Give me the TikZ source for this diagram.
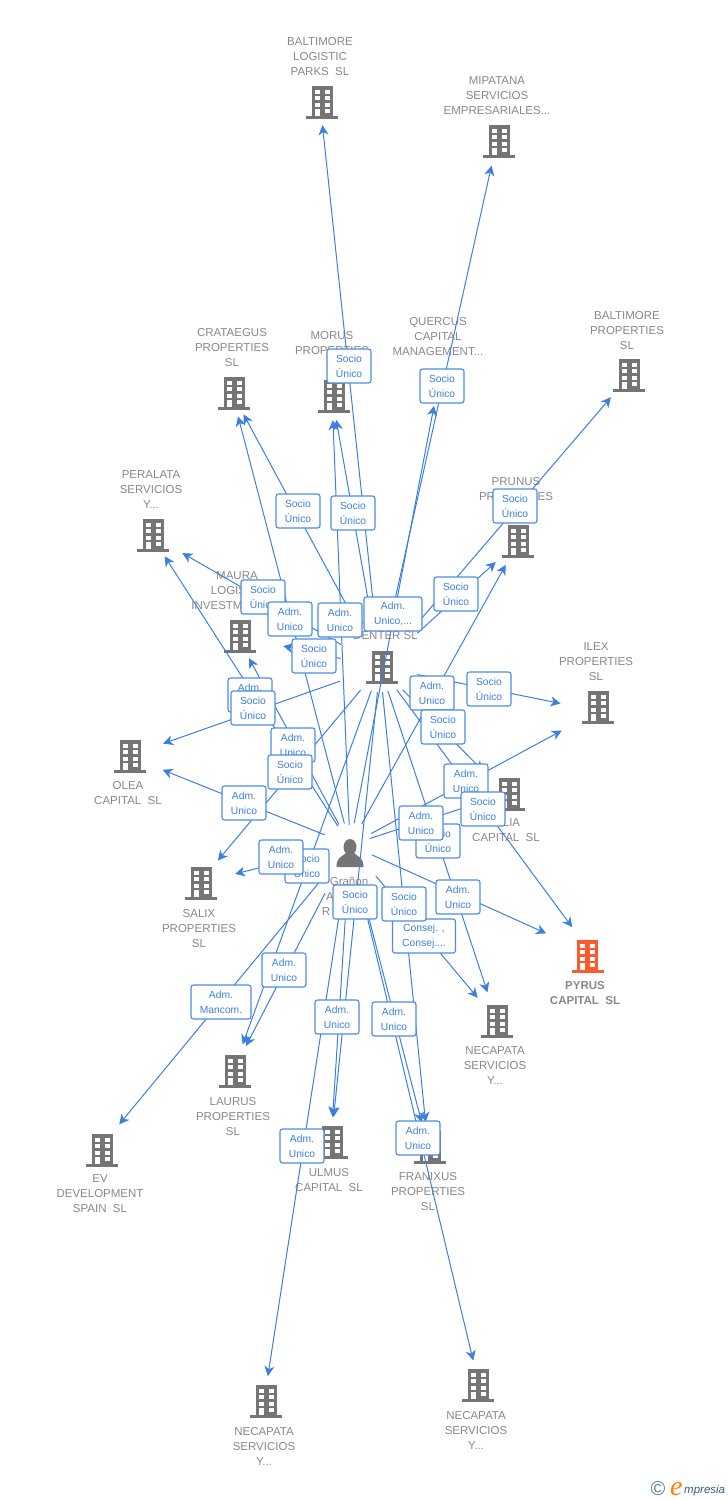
\documentclass[tikz,border=0pt]{standalone}
\usepackage{fontspec}
\setmainfont{Liberation Sans}
\newfontfamily\logofont{Liberation Serif}
\usetikzlibrary{arrows.meta}
\definecolor{edgeblue}{HTML}{3B80E0}
\definecolor{tagline}{HTML}{4A8DE6}
\definecolor{greytext}{HTML}{888888}
\definecolor{officegrey}{HTML}{757575}
\definecolor{pyrusorange}{HTML}{FF5A2B}
\definecolor{logomark}{HTML}{4F7F9F}
\definecolor{logoname}{HTML}{2E5F86}
\newcommand{\su}{Socio\\Único}
\newcommand{\au}{Adm.\hspace{2.5pt}\\Unico}
\newcommand{\office}[2]{
  \begin{scope}[shift={(#1)}]
    \fill[#2] (-10.5,-16) rectangle (10.5,14);
    \fill[#2] (-16,14) rectangle (16,17);
    \foreach \wy in {-12.5,-6,0.5} {
      \fill[white] (-7.5,\wy) rectangle (-2.5,\wy+4.2);
      \fill[white] (2.5,\wy) rectangle (7.5,\wy+4.2);
    }
    \fill[white] (-7.5,7) rectangle (-2.5,14);
    \fill[white] (2.5,7) rectangle (7.5,11);
  \end{scope}
}
\begin{document}
\begin{tikzpicture}[x=1pt,y=-1pt]
      \tikzstyle{anchorpt}=[inner sep=0pt,minimum size=0pt]
      \tikzstyle{caption}=[anchor=north,yshift=4.2pt,inner sep=0pt,align=center,text=greytext,font=\fontsize{11.5}{15}\selectfont]
      \tikzstyle{tag}=[draw=tagline,fill=white,rounded corners=2.5pt,line width=1.1pt,minimum width=44pt,minimum height=34pt,inner sep=0pt,align=center,text=edgeblue,font=\fontsize{10.3}{15}\selectfont]
      \tikzstyle{link}=[draw=edgeblue,line width=1pt,-{Stealth[length=10pt,width=10pt,inset=3pt]}]
      \useasboundingbox (0,0) rectangle (728,1500);
      % companies
      \foreach \nm/\x/\y/\ax/\cx/\cy/\txt in {
        baltLog/322/102/320/320/41/{BALTIMORE\\LOGISTIC\\PARKS\ \ SL},
        mipatana/499/141/497/497/80.7/{MIPATANA\\SERVICIOS\\EMPRESARIALES...},
        crataegus/234/393/232/232/332/{CRATAEGUS\\PROPERTIES\\SL},
        morus/334/396/332/332/335/{MORUS\\PROPERTIES},
        quercus/440/385/438/438/321/{QUERCUS\\CAPITAL\\MANAGEMENT...},
        baltProp/629/375/630/627/315/{BALTIMORE\\PROPERTIES\\SL},
        peralata/153/535/151/151/475/{PERALATA\\SERVICIOS\\Y...},
        prunus/518/541/519/516/481/{PRUNUS\\PROPERTIES},
        maura/240/636/237/237/576/{MAURA\\LOGIS\hspace*{17pt}\mbox{}\\INVESTM\hspace*{40pt}},
        hub/382/667/380/380/621/{\hspace*{0pt}A\hspace*{40pt}\mbox{}\\\hspace*{11pt}DENTER SL},
        olea/130/756/128/128/785/{OLEA\\CAPITAL\ \ SL},
        tilia/509/794/506/506/823/{\hspace*{11pt}LIA\\CAPITAL\ \ SL},
        salix/201/883/199/199/913/{SALIX\\PROPERTIES\\SL},
        necapataA/497/1021/497/495/1050/{NECAPATA\\SERVICIOS\\Y...},
        laurus/235/1071/233/233/1101/{LAURUS\\PROPERTIES\\SL},
        ev/102/1150/98/100/1179/{EV\\DEVELOPMENT\\SPAIN\ \ SL},
        ulmus/332/1142/331/329/1172/{ULMUS\\CAPITAL\ \ SL},
        franixus/430/1147/428/428/1176/{FRANIXUS\\PROPERTIES\\SL},
        necapataB/266/1401/264/264/1431/{NECAPATA\\SERVICIOS\\Y...},
        necapataC/478/1385/479/476/1415/{NECAPATA\\SERVICIOS\\Y...}} {
        \node[anchorpt] (\nm) at (\ax,\y) {};
        \office{\x,\y}{officegrey}
        \node[caption] (\nm Text) at (\cx,\cy) {\txt};
      }
      \node[anchorpt] (ilex) at (598,711) {};
      \office{598,707}{officegrey}
      \node[caption] (ilexText) at (596,647) {ILEX\\PROPERTIES\\SL};
      \node[anchorpt] (pyrus) at (592,954) {};
      \office{587.5,956}{pyrusorange}
      \node[caption,font=\fontsize{11.5}{15}\selectfont\bfseries] (pyrusText) at (585,985) {PYRUS\\CAPITAL\ \ SL};
      % person
      \node[anchorpt] (owner) at (350,845) {};
      \fill[officegrey] (350,847) ellipse (6.5 and 8);
      \fill[officegrey] (336.5,867) .. controls (336.5,857) and (342,857) .. (346,853) -- (354,853) .. controls (358,857) and (363.5,857) .. (363.5,867) -- cycle;
      \node[caption] (ownerText) at (349,881) {Grañon\\A\hspace*{38pt}\mbox{}\\R\hspace*{46pt}};
      % links: from, to, gap at start, gap at end
      \foreach \src/\dst/\st/\en in {
        hub/baltLog/42/23, hub/mipatana/42/25, hub/crataegus/42/24, hub/morus/42/24,
        hub/baltProp/50/29, hub/prunus/50/31, hub/peralata/45/36, hub/maura/40/47,
        hub/olea/42/37, hub/ilex/38/38, hub/tilia/32/32, hub/salix/30/29,
        hub/pyrus/28/33, hub/necapataA/25/30, hub/laurus/25/28, hub/ulmus/25/25,
        hub/franixus/25/25,
        owner/crataegus/22/24, owner/morus/20/24, owner/quercus/22/21, owner/peralata/22/25,
        owner/prunus/24/27, owner/maura/23/25, owner/ilex/24/41, owner/olea/27/37,
        owner/tilia/21/30, owner/salix/30/37, owner/pyrus/24/50, owner/necapataA/40/30,
        owner/laurus/54/28, owner/ev/45/33, owner/ulmus/50/25, owner/franixus/50/25,
        owner/necapataB/50/25, owner/necapataC/50/25} {
        \draw[link,shorten <=\st pt,shorten >=\en pt] (\src) -- (\dst);
      }
      % labels
      \foreach \nm/\x/\y/\txt in {
        tagBaltLog/349/366/\su, tagMipatana/442/386/\su, tagCrataegus/298/511/\su,
        tagMorus/353/513/\su, tagBaltProp/515/506/\su, tagPrunus/456/594/\su,
        tagPeralata/263/597/\su, tagCrataegusB/290/619/\au, tagMorusB/340/620/\au,
        tagMaura/314/656/\su, tagPeralataB/250/695/\au, tagOlea/253/708/\su,
        tagPrunusB/432/693/\au, tagIlex/489/689/\su, tagTilia/443/727/\su,
        tagMauraB/293/745/\au, tagSalix/290/772/\su, tagIlexB/466/781/\au,
        tagPyrus/483/809/\su, tagOleaB/244/803/\au, tagNecapataA/438/841/\su,
        tagTiliaB/421/823/\au, tagLaurus/307/866/\su, tagSalixB/281/857/\au,
        tagUlmus/355/902/\su, tagPyrusB/458/897/\au, tagLaurusB/284/970/\au,
        tagUlmusB/337/1017/\au, tagFranixusB/394/1019/\au,
        tagNecapataB/302/1146/\au, tagNecapataC/418/1138/\au} {
        \node[tag] (\nm) at (\x,\y) {\txt};
      }
      \node[tag,minimum width=58pt] (tagQuercus) at (393,614) {Adm.\hspace{8pt}\\Unico,...};
      \node[tag,minimum width=63pt] (tagNecapataAB) at (424,936) {Consej. ,\\Consej....};
      \node[tag] (tagFranixus) at (404,904) {\su};
      \node[tag,minimum width=60pt] (tagEv) at (221,1002) {Adm.\\Mancom.};
      % logo
      \node[inner sep=0pt,text=logomark,font=\fontsize{20}{20}\selectfont] (logoMark) at (658,1488.5) {©};
      \node[inner sep=0pt,anchor=base west,text=orange,font=\fontsize{28}{28}\logofont\itshape] (logoInitial) at (670,1495) {e};
      \node[inner sep=0pt,anchor=base west,text=logoname,font=\fontsize{11.5}{12}\itshape] (logoName) at (684,1493) {mpresia};
\end{tikzpicture}
\end{document}
